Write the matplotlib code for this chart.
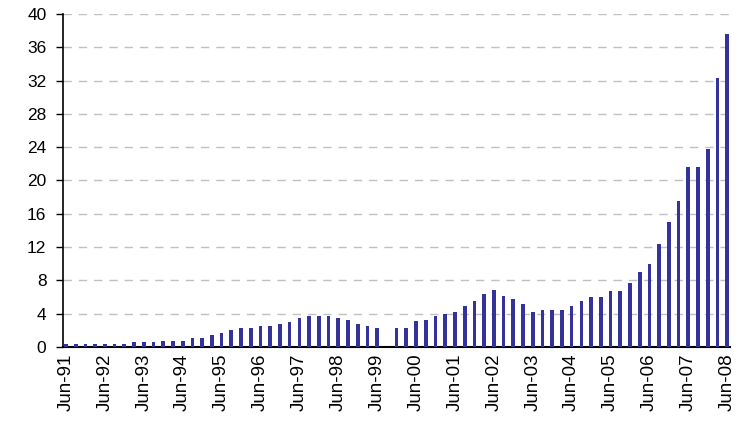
import numpy as np
import matplotlib
matplotlib.use("Agg")
import matplotlib.pyplot as plt

plt.rcParams['font.family'] = ['Liberation Sans', 'DejaVu Sans']

# quarterly data, Jun-91 .. Jun-08 (Sep-99 missing)
values = [0.28, 0.28, 0.28, 0.28, 0.28, 0.28, 0.28,
          0.52, 0.52, 0.52, 0.75, 0.75, 0.75, 1.0, 1.0,
          1.47, 1.71, 1.96, 2.29, 2.29, 2.53, 2.53, 2.78, 3.02,
          3.51, 3.76, 3.76, 3.76, 3.51, 3.27, 2.78, 2.53, 2.29,
          np.nan, 2.29, 2.29, 3.05, 3.27, 3.75, 4.0, 4.23, 4.96,
          5.56, 6.3, 6.77, 6.05, 5.8, 5.2, 4.23, 4.48, 4.48, 4.48,
          4.96, 5.5, 6.0, 6.0, 6.75, 6.75, 7.7, 9.0, 10.0, 12.3,
          15.0, 17.5, 21.6, 21.6, 23.75, 32.3, 37.6]
tick_labels = ["Jun-91", "Jun-92", "Jun-93", "Jun-94", "Jun-95", "Jun-96",
               "Jun-97", "Jun-98", "Jun-99", "Jun-00", "Jun-01", "Jun-02",
               "Jun-03", "Jun-04", "Jun-05", "Jun-06", "Jun-07", "Jun-08"]

fig = plt.figure(figsize=(7.42, 4.25), dpi=100)
ax = fig.add_axes([0.085, 0.184, 0.899, 0.783])

x = np.arange(len(values))
ax.bar(x, values, width=0.38, color="#333399", zorder=3)

ax.set_ylim(0, 40)
ax.set_yticks(range(0, 41, 4))
ax.set_xlim(-0.3, 68.3)
ax.set_xticks(x[::4])
ax.set_xticklabels(tick_labels, rotation=90, fontsize=13.5)
ax.tick_params(axis="y", labelsize=12.5, length=5, width=1, direction="out", pad=7)
ax.tick_params(axis="x", length=0, pad=5)

ax.yaxis.grid(True, color="#c0c0c0", linestyle=(0, (6, 5)), linewidth=1)
ax.set_axisbelow(True)
for s in ["top", "right"]:
    ax.spines[s].set_visible(False)
ax.spines["left"].set_linewidth(1.2)
ax.spines["bottom"].set_linewidth(1.5)

plt.savefig("out.png", dpi=100)
